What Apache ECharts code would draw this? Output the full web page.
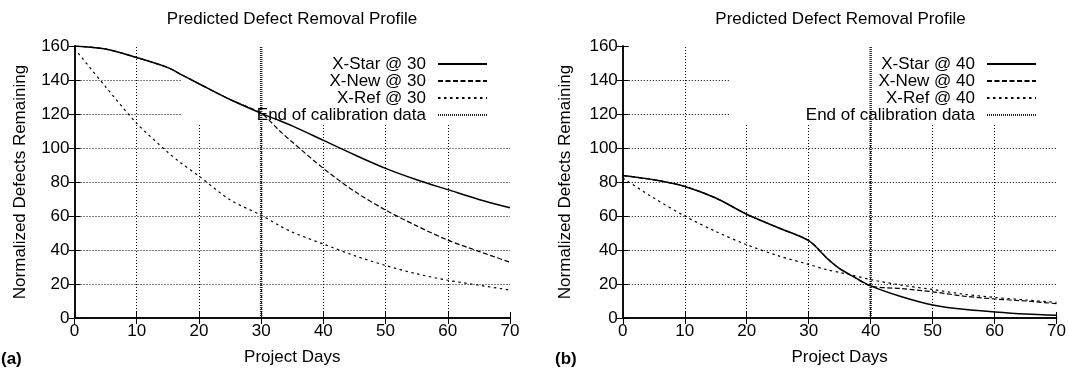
<!DOCTYPE html>
<html>
<head>
<meta charset="utf-8">
<script src="https://cdn.jsdelivr.net/npm/echarts@6/dist/echarts.min.js"></script>
<style>
  html, body { margin: 0; padding: 0; background: #fff; }
  #chart { width: 1069px; height: 371px; }
</style>
</head>
<body>
<div id="chart"></div>
<script>
// values
const daysA = [0, 5, 10, 15, 17, 20, 25, 30, 33, 35, 40, 45, 50, 55, 60, 65, 70]
const starA = [160, 158.2, 153.2, 147.3, 143.5, 137.8, 128.5, 120.4, 116, 113, 104.5, 96, 88, 81.3, 75.5, 69.7, 64.8]
const newA = [160, 158.2, 153.2, 147.3, 143.5, 137.8, 128.5, 120.4, 110, 103.5, 88, 74.5, 63.5, 54.2, 45.8, 39.2, 32.8]
const refA = [158.5, 136, 114.5, 97.5, 91.5, 83.5, 69.5, 60.5, 54.2, 50.5, 43.5, 36.7, 30.9, 26, 22.2, 19.3, 16.4]

const daysB = [0, 5, 10, 15, 20, 25, 30, 33, 35, 37, 40, 45, 50, 55, 60, 65, 70]
const starB = [83.8, 81.3, 77.4, 70.6, 61, 53.2, 45.5, 35, 29, 24.8, 18.9, 12.5, 7.7, 5.1, 3.6, 2.4, 1.6]
const newB = [83.8, 81.3, 77.4, 70.6, 61, 53.2, 45.5, 35, 29, 24.8, 18.9, 17.3, 15.4, 12.9, 11.2, 10, 8.4]
const refB = [82.3, 70.6, 60, 50.9, 43.1, 36.7, 31.5, 28.3, 26.8, 25.2, 22.6, 19.3, 16.8, 14, 12.1, 10.6, 9.2]

const calibA = 30
const calibB = 40
const xTicks = [10, 20, 30, 40, 50, 60]
const yTicks = [20, 40, 60, 80, 100, 120, 140]
const xMax = 70
const yMax = 160

const titleText = 'Predicted Defect Removal Profile'
const xName = 'Project Days'
const yName = 'Normalized Defects Remaining'

// area where gnuplot's key blanks the grid (axis units)
const keyClear = { x: 17.2, y: 114 }

const FONT = "'Liberation Sans', Arial, Helvetica, sans-serif"
const FS = 17

const zip = (xs, ys) => xs.map((x, i) => [x, ys[i]])

const gridSegments = () => {
    const segs = []
    xTicks.forEach((x) => {
        const top = x > keyClear.x ? keyClear.y : yMax
        segs.push([{ coord: [x, 0] }, { coord: [x, top] }])
    })
    yTicks.forEach((y) => {
        const right = y > keyClear.y ? keyClear.x : xMax
        segs.push([{ coord: [0, y] }, { coord: [right, y] }])
    })
    return segs
}

const axisCommon = {
    axisLine: { show: true, lineStyle: { color: '#000', width: 1.5 } },
    axisTick: { show: true, inside: true, length: 6, lineStyle: { color: '#000', width: 1 } },
    splitLine: { show: false },
}

const makeX = (gi, pos, name) => ({
    ...axisCommon,
    type: 'value', gridIndex: gi, position: pos, min: 0, max: xMax, interval: 10,
    name: name, nameLocation: 'middle', nameGap: 31,
    nameTextStyle: { fontFamily: FONT, fontSize: FS, color: '#000' },
    axisLabel: { show: pos === 'bottom', margin: 5, fontFamily: FONT, fontSize: FS, color: '#000' },
})

const makeY = (gi, pos, name, gap) => ({
    ...axisCommon,
    type: 'value', gridIndex: gi, position: pos, min: 0, max: yMax, interval: 20,
    name: name, nameLocation: 'middle', nameGap: gap,
    nameTextStyle: { fontFamily: FONT, fontSize: FS, color: '#000' },
    axisLabel: { show: pos === 'left', margin: 5, fontFamily: FONT, fontSize: FS, color: '#000' },
})

const noMark = { color: 'rgba(0,0,0,0)' }

const makeSeries = (xi, yi, tag, days, star, nw, ref, calib) => [
    {
        name: 'grid', type: 'line', xAxisIndex: xi, yAxisIndex: yi, z: 1,
        data: [[0, 0]], symbol: 'none', lineStyle: { width: 0 }, silent: true,
        markLine: {
            silent: true, symbol: 'none', label: { show: false },
            lineStyle: { color: '#000', width: 1, type: [1, 2] },
            data: gridSegments(),
        },
    },
    {
        name: 'X-New @ ' + tag, type: 'line', xAxisIndex: xi, yAxisIndex: yi, z: 2,
        data: zip(days, nw), symbol: 'none', smooth: 0.3, itemStyle: noMark,
        lineStyle: { color: '#000', width: 1.2, type: [5, 2.5] },
    },
    {
        name: 'X-Ref @ ' + tag, type: 'line', xAxisIndex: xi, yAxisIndex: yi, z: 2,
        data: zip(days, ref), symbol: 'none', smooth: 0.3, itemStyle: noMark,
        lineStyle: { color: '#000', width: 1.2, type: [2.5, 3.5] },
    },
    {
        name: 'X-Star @ ' + tag, type: 'line', xAxisIndex: xi, yAxisIndex: yi, z: 3,
        data: zip(days, star), symbol: 'none', smooth: 0.3, itemStyle: noMark,
        lineStyle: { color: '#000', width: 1.5, type: 'solid' },
    },
    {
        name: 'End of calibration data', type: 'line', xAxisIndex: xi, yAxisIndex: yi, z: 3,
        data: [[calib, 0], [calib, yMax]], symbol: 'none', itemStyle: noMark,
        lineStyle: { color: '#222', width: 2.5, type: [1, 1] },
    },
]

const makeLegend = (tag, right) => ({
    orient: 'vertical', right: right, top: 55.5, align: 'right', padding: 0,
    itemWidth: 49, itemHeight: 17, itemGap: 0, selectedMode: false,
    itemStyle: { opacity: 0 },
    textStyle: { fontFamily: FONT, fontSize: FS, color: '#000', padding: [0, 7, 0, 0] },
    data: ['X-Star @ ' + tag, 'X-New @ ' + tag, 'X-Ref @ ' + tag, 'End of calibration data'],
})

const chart = echarts.init(document.getElementById('chart'), null, { renderer: 'canvas' })

chart.setOption({
    backgroundColor: '#fff',
    animation: false,
    title: [
        { text: titleText, left: 292, top: 11, textAlign: 'center', padding: 0,
          textStyle: { fontFamily: FONT, fontSize: FS, fontWeight: 'normal', color: '#000' } },
        { text: titleText, left: 840.5, top: 11, textAlign: 'center', padding: 0,
          textStyle: { fontFamily: FONT, fontSize: FS, fontWeight: 'normal', color: '#000' } },
    ],
    grid: [
        { left: 74.5, width: 435.5, top: 46, height: 275.5 },
        { left: 622.8, width: 435.4, top: 46, height: 275.5 },
    ],
    xAxis: [
        makeX(0, 'bottom', xName),
        makeX(0, 'top', ''),
        makeX(1, 'bottom', xName),
        makeX(1, 'top', ''),
    ],
    yAxis: [
        makeY(0, 'left', yName, 45.5),
        makeY(0, 'right', '', 0),
        makeY(1, 'left', yName, 48.8),
        makeY(1, 'right', '', 0),
    ],
    legend: [makeLegend('30', 581), makeLegend('40', 32)],
    series: [
        ...makeSeries(0, 0, '30', daysA, starA, newA, refA, calibA),
        ...makeSeries(2, 2, '40', daysB, starB, newB, refB, calibB),
    ],
    graphic: [
        { type: 'text', left: 1, top: 351, style: { text: '(a)', font: 'bold 17px ' + FONT, fill: '#000' } },
        { type: 'text', left: 555, top: 351, style: { text: '(b)', font: 'bold 17px ' + FONT, fill: '#000' } },
    ],
})
</script>
</body>
</html>
